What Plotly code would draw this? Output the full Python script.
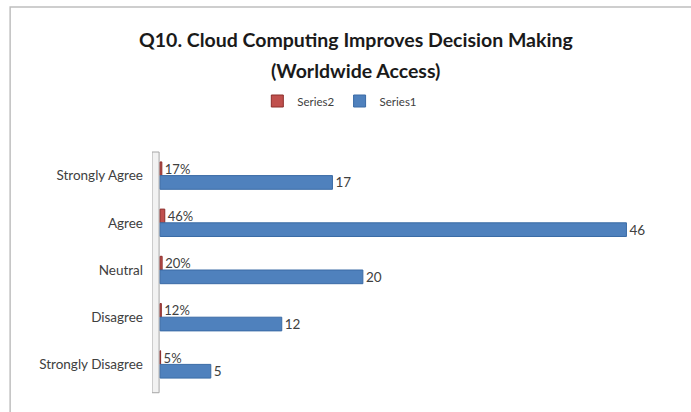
import plotly.graph_objects as go

categories = ["Strongly Agree", "Agree", "Neutral", "Disagree", "Strongly Disagree"]
series1 = [17, 46, 20, 12, 5]
series2 = [0.17, 0.46, 0.20, 0.12, 0.05]
series1_labels = [str(v) for v in series1]
series2_labels = [f"{round(v*100)}%" for v in series2]

W, H = 691, 412
L, R, T, B = 152, 23.5, 152, 24
pw = W - L - R
ph = H - T - B

def px_x(p):
    return (p - L) / pw

def px_y(p):
    return (H - B - p) / ph

fig = go.Figure()
fig.add_trace(go.Bar(
    y=categories, x=series2, orientation="h", name="Series2",
    marker=dict(color="#C0504D", line=dict(color="#8C2E2B", width=1)),
    text=series2_labels, textposition="outside", cliponaxis=False, constraintext="none",
    textfont=dict(family="Lato", size=13, color="#404040"),
))
fig.add_trace(go.Bar(
    y=categories, x=series1, orientation="h", name="Series1",
    marker=dict(color="#4F81BD", line=dict(color="#3A6BA5", width=1)),
    text=series1_labels, textposition="outside", cliponaxis=False, constraintext="none",
    textfont=dict(family="Lato", size=13.5, color="#404040"),
))

fig.update_layout(
    width=W, height=H,
    margin=dict(l=L, r=R, t=T, b=B, autoexpand=False),
    paper_bgcolor="white", plot_bgcolor="white",
    barmode="group", bargap=0.42, bargroupgap=0.0,
    showlegend=True,
    legend=dict(orientation="h", x=px_x(340), xanchor="center", y=px_y(101), yanchor="middle",
                font=dict(family="Lato", size=11.5, color="#404040"), traceorder="normal",
                itemwidth=30, tracegroupgap=0),
    xaxis=dict(range=[-0.8, 50], showgrid=False, zeroline=False, showticklabels=False,
               showline=False, fixedrange=True),
    yaxis=dict(autorange="reversed", showgrid=False, zeroline=False, showline=False,
               ticks="", ticklabelstandoff=8,
               tickfont=dict(family="Lato", size=13.5, color="#404040")),
    font=dict(family="Lato"),
)

# chart frame
fig.add_shape(type="rect", xref="paper", yref="paper",
              x0=px_x(10), x1=px_x(700), y0=px_y(420), y1=px_y(7),
              line=dict(color="#BFBFBF", width=1.5), fillcolor="rgba(0,0,0,0)", layer="below")
# 3D wall strip
fig.add_shape(type="rect", xref="x", yref="paper", x0=-0.8, x1=-0.1, y0=-0.02, y1=1.0,
              line=dict(color="#A6A6A6", width=1), fillcolor="#F2F2F2", layer="below")

fig.add_annotation(text="<b>Q10. Cloud Computing Improves Decision Making</b>",
                   xref="paper", yref="paper", x=px_x(356), y=px_y(40),
                   xanchor="center", yanchor="middle", showarrow=False,
                   font=dict(family="Lato", size=19.5, color="#1a1a1a"))
fig.add_annotation(text="<b>(Worldwide Access)</b>",
                   xref="paper", yref="paper", x=px_x(356), y=px_y(70),
                   xanchor="center", yanchor="middle", showarrow=False,
                   font=dict(family="Lato", size=19.5, color="#1a1a1a"))

fig.write_html("out.html")
